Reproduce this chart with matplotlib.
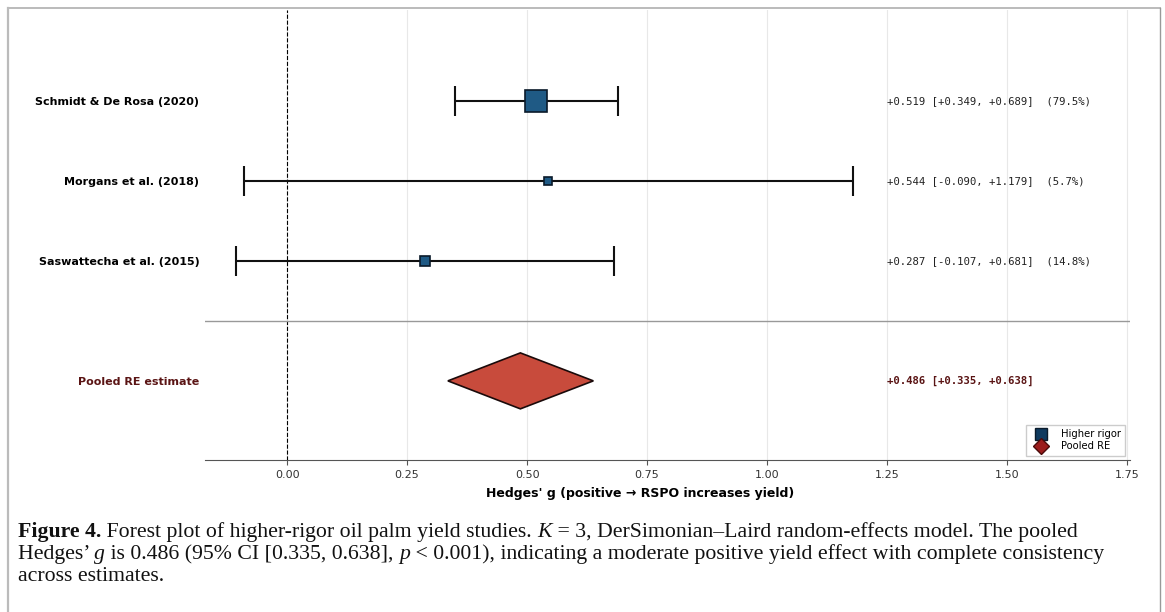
import numpy as np
import matplotlib
matplotlib.use("Agg")
import matplotlib.pyplot as plt
from matplotlib.lines import Line2D

studies = ["Schmidt & De Rosa (2020)", "Morgans et al. (2018)", "Saswattecha et al. (2015)"]
effects = [0.519, 0.544, 0.287]
ci_low = [0.349, -0.090, -0.107]
ci_high = [0.689, 1.179, 0.681]
weights = [79.5, 5.7, 14.8]
pooled_label = "Pooled RE estimate"
pooled = 0.486
pooled_low = 0.335
pooled_high = 0.638
xticks = [0.0, 0.25, 0.5, 0.75, 1.0, 1.25, 1.5, 1.75]

SQ_COLOR = "#1f5a85"
DIA_COLOR = "#c84b3c"
DARK_RED = "#5a1414"

fig = plt.figure(figsize=(11.65, 6.12), dpi=100)
ax = fig.add_axes([205 / 1165, 1 - 460 / 612, 925 / 1165, 450 / 612])

y_rows = [3, 2, 1]
y_pool = -0.5

# griglia verticale leggera
ax.set_xticks(xticks)
ax.grid(axis="x", color="#e8e8e8", lw=0.8)
ax.set_axisbelow(True)

ax.axvline(0, color="black", ls="--", lw=0.8, zorder=1)
ax.axhline(0.25, color="#999999", lw=1.0, zorder=1)

for yy, e, lo, hi, w in zip(y_rows, effects, ci_low, ci_high, weights):
    ax.errorbar(e, yy, xerr=[[e - lo], [hi - e]], fmt="none", ecolor="#111111",
                elinewidth=1.5, capsize=10.5, capthick=1.5, zorder=2)
    ms = (8 + 0.165 * w) * 0.72
    ax.plot(e, yy, marker="s", ms=ms, mfc=SQ_COLOR, mec="#0a1a2a", mew=1.2,
            ls="none", zorder=3)
    txt = f"{e:+.3f} [{lo:+.3f}, {hi:+.3f}]  ({w:.1f}%)"
    ax.text(1.25, yy, txt, family="DejaVu Sans Mono", fontsize=7.7,
            color="#222222", va="center", ha="left")

# diamante per la stima pooled
half_h = 0.35
ax.fill([pooled_low, pooled, pooled_high, pooled],
        [y_pool, y_pool + half_h, y_pool, y_pool - half_h],
        facecolor=DIA_COLOR, edgecolor="#1a0a0a", lw=1.2, zorder=3)
ax.text(1.25, y_pool, f"{pooled:+.3f} [{pooled_low:+.3f}, {pooled_high:+.3f}]",
        family="DejaVu Sans Mono", fontsize=7.7, fontweight="bold",
        color=DARK_RED, va="center", ha="left")

ax.set_xlim(-0.171, 1.756)
ax.set_ylim(-1.49, 4.14)
ax.set_yticks(y_rows + [y_pool])
ax.set_yticklabels(studies + [pooled_label], fontsize=8, fontweight="bold")
ax.get_yticklabels()[-1].set_color(DARK_RED)
ax.tick_params(axis="y", length=0, pad=4)
ax.tick_params(axis="x", labelsize=8, labelcolor="#333333", length=3.5,
               color="#555555")
for s in ["top", "right", "left"]:
    ax.spines[s].set_visible(False)
ax.spines["bottom"].set_color("#555555")

ax.set_xlabel("Hedges' g (positive \u2192 RSPO increases yield)", fontsize=9,
              fontweight="bold")
ax.xaxis.set_label_coords((640 - 205) / 925, -27 / 450)

handles = [
    Line2D([], [], marker="s", ls="none", ms=8, mfc="#0f3a5f", mec="#0a1a2a"),
    Line2D([], [], marker="D", ls="none", ms=8, mfc="#9b1c1c", mec="#4a0a0a"),
]
ax.legend(handles, ["Higher rigor", "Pooled RE"], fontsize=7.2,
          loc="lower right", bbox_to_anchor=(0.997, 0.005), borderaxespad=0.2,
          framealpha=1, edgecolor="#cccccc", handletextpad=1.0, borderpad=0.45,
          labelspacing=0.2, fancybox=False)

# cornice grigia della figura (aperta in basso)
fig.add_artist(Line2D([8 / 1165, 8 / 1165], [0, 1 - 8 / 612],
                      transform=fig.transFigure, color="#bbbbbb", lw=1.6))
fig.add_artist(Line2D([8 / 1165, 1160 / 1165], [1 - 8 / 612, 1 - 8 / 612],
                      transform=fig.transFigure, color="#bbbbbb", lw=1.4))
fig.add_artist(Line2D([1160 / 1165, 1160 / 1165], [0, 1 - 8 / 612],
                      transform=fig.transFigure, color="#999999", lw=1.0))

# didascalia, pezzo per pezzo
cap_font = "Liberation Serif"
cap_size = 15.7


def caption_line(pieces, x, y):
    last = None
    for s, style in pieces:
        kw = dict(fontsize=cap_size, family=cap_font, color="#111111")
        if style == "b":
            kw["fontweight"] = "bold"
        elif style == "i":
            kw["fontstyle"] = "italic"
        if last is None:
            last = fig.text(x, y, s, va="baseline", ha="left", **kw)
        else:
            last = ax.annotate(s, xy=(1, 0), xycoords=last, va="bottom",
                               ha="left", annotation_clip=False, **kw)


lines = [
    [("Figure 4.", "b"), (" Forest plot of higher-rigor oil palm yield studies. ", "r"),
     ("K", "i"), (" = 3, DerSimonian\u2013Laird random-effects model. The pooled", "r")],
    [("Hedges\u2019 ", "r"), ("g", "i"), (" is 0.486 (95% CI [0.335, 0.638], ", "r"),
     ("p", "i"), (" < 0.001), indicating a moderate positive yield effect with complete consistency", "r")],
    [("across estimates.", "r")],
]
baselines = [537, 559, 581]
for pieces, yb in zip(lines, baselines):
    caption_line(pieces, 18 / 1165, 1 - yb / 612)

fig.savefig("out.png", dpi=100)
